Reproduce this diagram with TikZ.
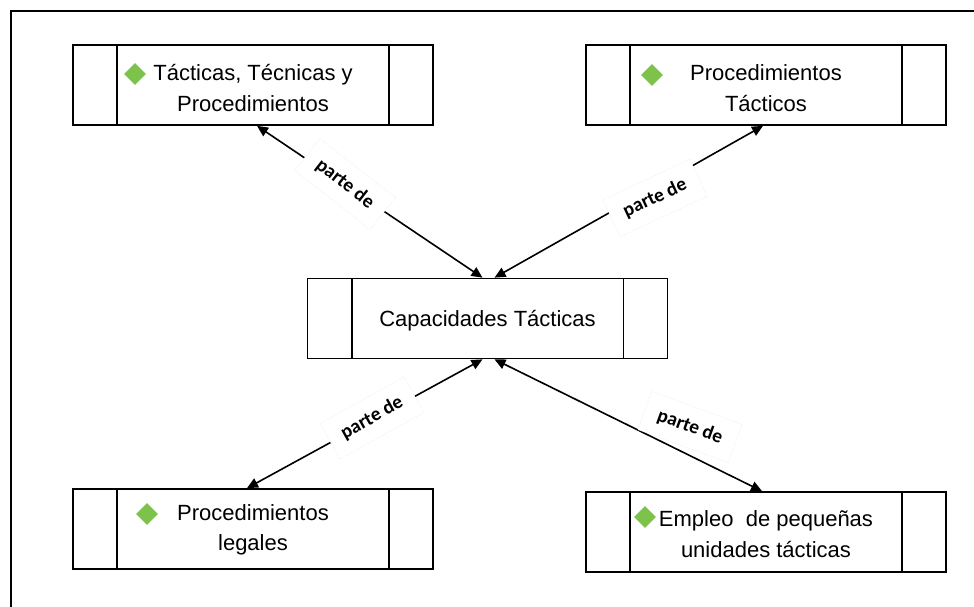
\documentclass[tikz,border=0pt]{standalone}
\usepackage{fontspec}
\setmainfont{Liberation Sans}
\newfontfamily\lblfont{Carlito}
\usetikzlibrary{shapes.geometric,arrows.meta,calc}
\definecolor{dgreen}{RGB}{125,194,75}
\begin{document}
\begin{tikzpicture}[x=1pt,y=-1pt,
  cellbox/.style={draw, line width=1.7pt, minimum width=360pt, minimum height=80pt, inner sep=0pt},
  celltext/.style={inner sep=0pt, align=center, font=\fontsize{22}{30.5}\selectfont},
  bullet/.style={diamond, fill=dgreen, inner sep=0pt, minimum size=22pt},
  rel/.style={draw, line width=1.6pt, {Triangle[length=11pt,width=10pt]}-{Triangle[length=11pt,width=10pt]}},
  lbl/.style={fill=white, draw=black!12, densely dotted, font=\lblfont\bfseries\fontsize{19.5}{22}\selectfont, inner xsep=14pt, inner ysep=12pt}
]
\useasboundingbox (0,0) rectangle (974,607);
\fill[white] (0,0) rectangle (974,607);
\draw[line width=2.5pt] (11,607) -- (11,11) -- (974,11);

\node[cellbox] (tl) at (253,85) {};
\node[cellbox] (tr) at (766,85) {};
\node[cellbox] (c) at (487.5,318.5) {};
\node[cellbox] (bl) at (253,529) {};
\node[cellbox] (br) at (766,532) {};

\foreach \n in {tl,tr,c,bl,br} {
  \draw[line width=1.7pt] ([xshift=45pt]\n.north west) -- ([xshift=45pt]\n.south west);
  \draw[line width=1.7pt] ([xshift=-45pt]\n.north east) -- ([xshift=-45pt]\n.south east);
}

\node[celltext] (tlt) at (253,88) {T\'acticas, T\'ecnicas y\\Procedimientos};
\node[celltext] (trt) at (766,88) {Procedimientos\\T\'acticos};
\node[celltext] (ct) at (487.5,320.5) {Capacidades T\'acticas};
\node[celltext] (blt) at (253,530) {Procedimientos\\legales};
\node[celltext] (brt) at (766,534) {Empleo\ \ de peque\~nas\\unidades t\'acticas};

\node[bullet] (d1) at (135,74) {};
\node[bullet] (d2) at (652,75) {};
\node[bullet] (d3) at (147,514) {};
\node[bullet] (d4) at (645,517) {};

\draw[rel] ($(tl.south)+(4,0)$) -- ($(c.north)+(-5,0)$);
\draw[rel] ($(tr.south)+(-3,0)$) -- ($(c.north)+(7,0)$);
\draw[rel] ($(bl.north)+(-6,0)$) -- ($(c.south)+(-5,0)$);
\draw[rel] ($(br.north)+(-4,0)$) -- ($(c.south)+(7,0)$);

\node[lbl, rotate=-38] (l1) at (345,184) {parte de};
\node[lbl, rotate=25] (l2) at (655,198) {parte de};
\node[lbl, rotate=29] (l3) at (372,418) {parte de};
\node[lbl, rotate=-20] (l4) at (690,427) {parte de};
\end{tikzpicture}
\end{document}
